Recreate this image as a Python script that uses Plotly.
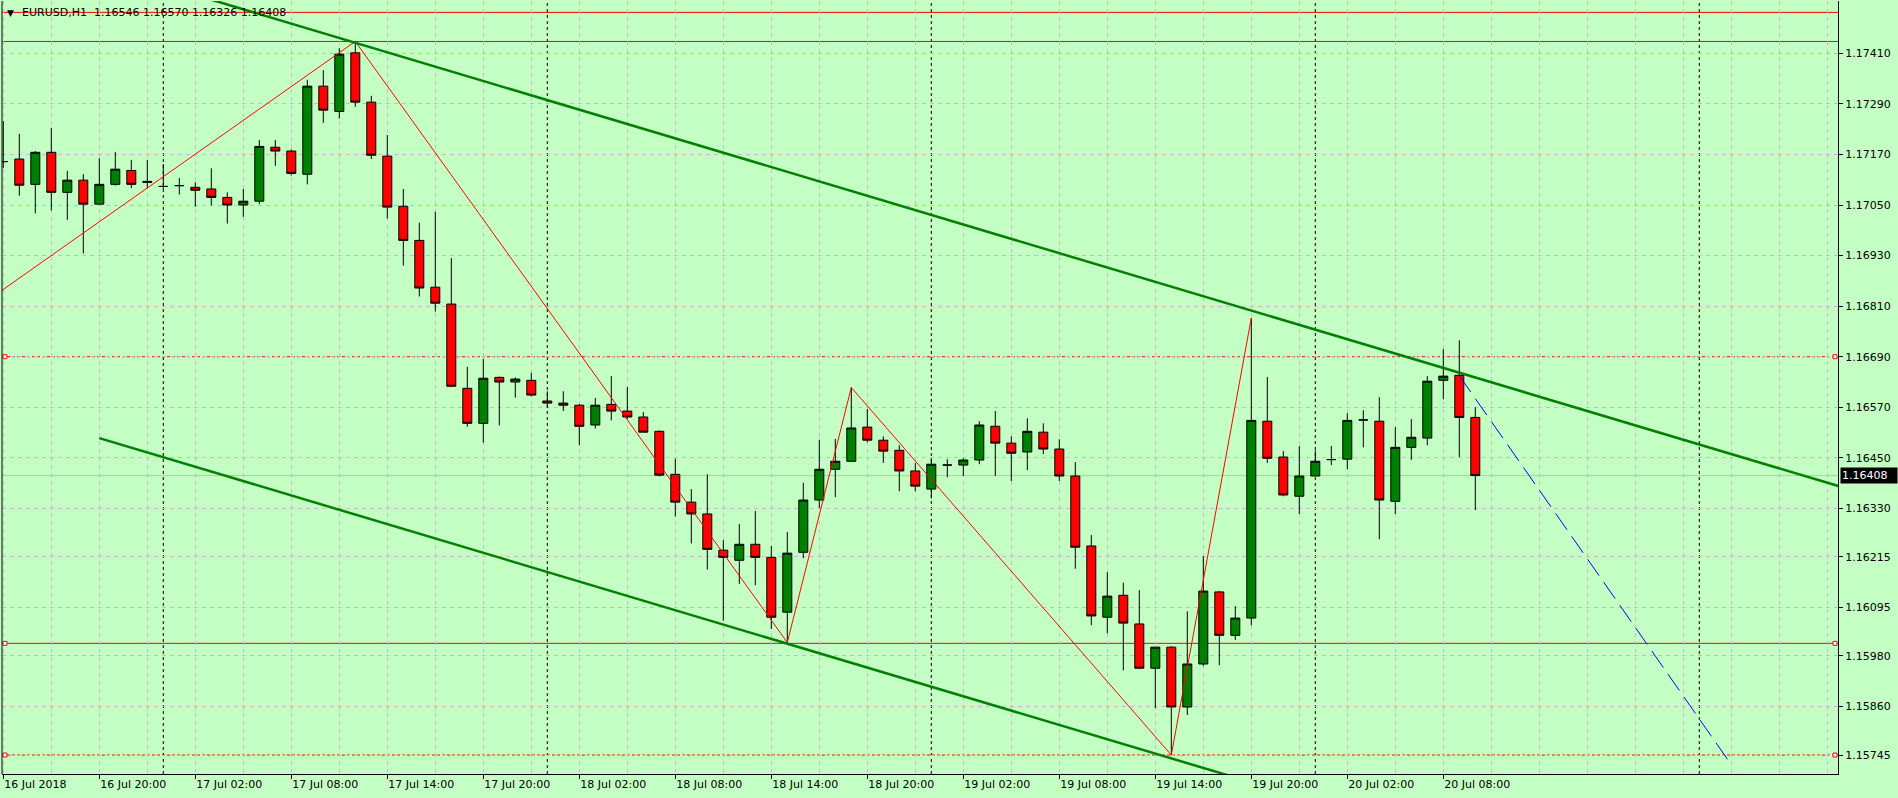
import plotly.graph_objects as go
import pandas as pd

# ---------------- data (EURUSD, H1) ----------------
symbol = "EURUSD,H1"
times = pd.date_range("2018-07-16 14:00", periods=93, freq="h")

opens = [1.17153, 1.17159, 1.17099, 1.17175, 1.17080, 1.17109, 1.17052, 1.17099, 1.17132, 1.17106,
         1.17094, 1.17096, 1.17092, 1.17088, 1.17068, 1.17050, 1.17059, 1.17187, 1.17178, 1.17123,
         1.17332, 1.17272, 1.17411, 1.17294, 1.17166, 1.17047, 1.16966, 1.16855, 1.16815, 1.16615,
         1.16532, 1.16641, 1.16630, 1.16634, 1.16585, 1.16580, 1.16575, 1.16528, 1.16577, 1.16561,
         1.16547, 1.16513, 1.16411, 1.16345, 1.16317, 1.16231, 1.16207, 1.16245, 1.16214, 1.16084,
         1.16226, 1.16350, 1.16423, 1.16442, 1.16523, 1.16492, 1.16468, 1.16419, 1.16376, 1.16433,
         1.16433, 1.16445, 1.16525, 1.16485, 1.16464, 1.16511, 1.16471, 1.16407, 1.16241, 1.16072,
         1.16124, 1.16056, 1.15951, 1.16001, 1.15859, 1.15961, 1.16132, 1.16029, 1.16070, 1.16537,
         1.16452, 1.16359, 1.16407, 1.16446, 1.16447, 1.16540, 1.16537, 1.16347, 1.16475, 1.16497,
         1.16634, 1.16646, 1.16546]
highs = [1.17249, 1.17219, 1.17178, 1.17233, 1.17131, 1.17123, 1.17161, 1.17176, 1.17157, 1.17157,
         1.17147, 1.17114, 1.17104, 1.17137, 1.17080, 1.17088, 1.17204, 1.17204, 1.17182, 1.17347,
         1.17370, 1.17422, 1.17438, 1.17309, 1.17216, 1.17088, 1.17008, 1.17034, 1.16924, 1.16666,
         1.16685, 1.16643, 1.16641, 1.16652, 1.16608, 1.16608, 1.16578, 1.16592, 1.16644, 1.16618,
         1.16559, 1.16515, 1.16448, 1.16376, 1.16411, 1.16255, 1.16293, 1.16324, 1.16241, 1.16274,
         1.16391, 1.16493, 1.16495, 1.16617, 1.16566, 1.16501, 1.16480, 1.16438, 1.16449, 1.16447,
         1.16449, 1.16537, 1.16561, 1.16501, 1.16544, 1.16532, 1.16494, 1.16440, 1.16267, 1.16179,
         1.16154, 1.16136, 1.16001, 1.16003, 1.16086, 1.16217, 1.16134, 1.16098, 1.16782, 1.16642,
         1.16466, 1.16478, 1.16468, 1.16478, 1.16556, 1.16563, 1.16594, 1.16523, 1.16542, 1.16644,
         1.16708, 1.16729, 1.16570]
lows = [1.17138, 1.17072, 1.17030, 1.17037, 1.17015, 1.16935, 1.17052, 1.17096, 1.17090, 1.17090,
        1.17088, 1.17075, 1.17046, 1.17049, 1.17006, 1.17022, 1.17052, 1.17143, 1.17120, 1.17099,
        1.17245, 1.17255, 1.17283, 1.17159, 1.17018, 1.16906, 1.16833, 1.16797, 1.16618, 1.16524,
        1.16486, 1.16527, 1.16593, 1.16596, 1.16568, 1.16561, 1.16480, 1.16520, 1.16539, 1.16543,
        1.16511, 1.16406, 1.16311, 1.16247, 1.16185, 1.16064, 1.16151, 1.16148, 1.16044, 1.16015,
        1.16212, 1.16331, 1.16357, 1.16442, 1.16487, 1.16438, 1.16371, 1.16371, 1.16354, 1.16404,
        1.16407, 1.16435, 1.16407, 1.16395, 1.16421, 1.16459, 1.16395, 1.16187, 1.16053, 1.16034,
        1.15946, 1.15949, 1.15856, 1.15745, 1.15840, 1.15956, 1.15958, 1.16018, 1.16053, 1.16438,
        1.16359, 1.16317, 1.16407, 1.16433, 1.16423, 1.16475, 1.16257, 1.16317, 1.16445, 1.16480,
        1.16589, 1.16452, 1.16326]
closes = [1.17153, 1.17097, 1.17175, 1.17080, 1.17109, 1.17052, 1.17099, 1.17135, 1.17099, 1.17104,
          1.17094, 1.17096, 1.17085, 1.17068, 1.17050, 1.17059, 1.17189, 1.17178, 1.17125, 1.17332,
          1.17275, 1.17408, 1.17294, 1.17168, 1.17045, 1.16966, 1.16853, 1.16817, 1.16620, 1.16532,
          1.16639, 1.16630, 1.16637, 1.16599, 1.16580, 1.16575, 1.16525, 1.16575, 1.16561, 1.16547,
          1.16511, 1.16409, 1.16345, 1.16317, 1.16233, 1.16214, 1.16245, 1.16214, 1.16072, 1.16224,
          1.16350, 1.16423, 1.16442, 1.16521, 1.16492, 1.16466, 1.16419, 1.16383, 1.16435, 1.16433,
          1.16445, 1.16528, 1.16485, 1.16461, 1.16513, 1.16471, 1.16407, 1.16238, 1.16075, 1.16122,
          1.16058, 1.15951, 1.16001, 1.15859, 1.15961, 1.16134, 1.16029, 1.16070, 1.16539, 1.16449,
          1.16362, 1.16407, 1.16442, 1.16446, 1.16539, 1.16540, 1.16350, 1.16475, 1.16499, 1.16632,
          1.16644, 1.16546, 1.16408]

# price scale tick values (as shown on the right axis)
price_ticks = [1.17410, 1.17290, 1.17170, 1.17050, 1.16930, 1.16810, 1.16690, 1.16570,
               1.16450, 1.16330, 1.16215, 1.16095, 1.15980, 1.15860, 1.15745]

# drawn objects
upper_channel_x = ["2018-07-16 04:00", "2018-07-21 14:00"]
upper_channel_y = [1.17798, 1.16323]
lower_channel_x = ["2018-07-16 20:00", "2018-07-21 14:00"]
lower_channel_y = [1.16497, 1.15204]
zigzag_x = ["2018-07-16 13:00", "2018-07-17 12:00", "2018-07-18 15:00",
            "2018-07-18 19:00", "2018-07-19 15:00", "2018-07-19 20:00"]
zigzag_y = [1.16823, 1.17438, 1.16012, 1.16617, 1.15745, 1.16782]
projection_x = ["2018-07-20 09:00", "2018-07-21 02:00"]
projection_y = [1.16645, 1.15722]
hline_solid = [1.17507, 1.17438, 1.16010]
hline_dashed = [1.16690, 1.15745]
hline_marked = [1.16690, 1.16010, 1.15745]
day_separators = ["2018-07-17 00:00", "2018-07-18 00:00", "2018-07-19 00:00",
                  "2018-07-20 00:00", "2018-07-21 00:00"]

# ---------------- styling ----------------
BG = "#C4FFC4"
GRID = "#C0C0C0"
FONT = "DejaVu Sans"
W, H = 1898, 798
ML, MR, MT, MB = 2, 60, 1, 24
plot_w = W - ML - MR
px_per_hour = 16.0
first_bar_px = 1.3  # distance of the first bar centre from the plot's left edge

x_start = times[0] - pd.Timedelta(hours=first_bar_px / px_per_hour)
x_end = x_start + pd.Timedelta(hours=plot_w / px_per_hour)
y_range = [1.15700, 1.17534]

label_times = list(times[::6])
label_text = [label_times[0].strftime("%d %b %Y")] + [t.strftime("%d %b %H:%M") for t in label_times[1:]]
minor_grid = list(pd.date_range(times[0], x_end, freq="3h"))

fig = go.Figure()

fig.add_trace(go.Candlestick(
    x=times, open=opens, high=highs, low=lows, close=closes,
    increasing=dict(fillcolor="#008000", line=dict(color="black", width=1)),
    decreasing=dict(fillcolor="#FF0000", line=dict(color="black", width=1)),
    whiskerwidth=0, hoverinfo="skip", name=symbol,
))

fig.add_trace(go.Scatter(x=zigzag_x, y=zigzag_y, mode="lines",
                         line=dict(color="#FF0000", width=1), hoverinfo="skip"))
fig.add_trace(go.Scatter(x=upper_channel_x, y=upper_channel_y, mode="lines",
                         line=dict(color="#008000", width=2.5), hoverinfo="skip"))
fig.add_trace(go.Scatter(x=lower_channel_x, y=lower_channel_y, mode="lines",
                         line=dict(color="#008000", width=2.5), hoverinfo="skip"))
fig.add_trace(go.Scatter(x=projection_x, y=projection_y, mode="lines",
                         line=dict(color="#0000FF", width=1, dash="20px,8px"), hoverinfo="skip"))

shapes = []
# day separators
for d in day_separators:
    shapes.append(dict(type="line", xref="x", yref="paper", x0=d, x1=d, y0=0, y1=1,
                       line=dict(color="black", width=1, dash="3px,3px"), layer="below"))
# current bid line
shapes.append(dict(type="line", xref="paper", yref="y", x0=0, x1=1, y0=closes[-1], y1=closes[-1],
                   line=dict(color=GRID, width=1), layer="below"))
# horizontal levels
for v in hline_solid:
    shapes.append(dict(type="line", xref="paper", yref="y", x0=0, x1=1, y0=v, y1=v,
                       line=dict(color="#FF0000", width=1), layer="below"))
for v in hline_dashed:
    shapes.append(dict(type="line", xref="paper", yref="y", x0=0, x1=1, y0=v, y1=v,
                       line=dict(color="#FF0000", width=1, dash="3px,2px"), layer="below"))
for v in hline_marked:
    for anchor, (a, b) in ((0, (1, 5)), (1, (-5, -1))):
        shapes.append(dict(type="rect", xref="paper", xsizemode="pixel", xanchor=anchor,
                           x0=a, x1=b, yref="y", ysizemode="pixel", yanchor=v, y0=-2, y1=2,
                           line=dict(color="#FF0000", width=1), fillcolor="white", layer="above"))
# left frame
shapes.append(dict(type="line", xref="paper", yref="paper", x0=0, x1=0, y0=0, y1=1,
                   line=dict(color="black", width=1), layer="above"))

annotations = [
    dict(xref="paper", yref="paper", x=0, y=1, xanchor="left", yanchor="middle",
         xshift=3, yshift=-11.5, text="\u25BC", showarrow=False,
         font=dict(family=FONT, size=9, color="black")),
    dict(xref="paper", yref="paper", x=0, y=1, xanchor="left", yanchor="middle",
         xshift=18, yshift=-11.7, showarrow=False,
         text=f"{symbol}\u00a0\u00a0{opens[-1]:.5f} {highs[-1]:.5f} {lows[-1]:.5f} {closes[-1]:.5f}",
         font=dict(family=FONT, size=11, color="black")),
    dict(xref="paper", yref="y", x=1, y=closes[-1], xanchor="left", yanchor="middle",
         xshift=2, showarrow=False, text=f"{closes[-1]:.5f}", bgcolor="black",
         width=54, align="left", borderpad=1,
         font=dict(family=FONT, size=11, color="white")),
]

fig.update_layout(
    width=W, height=H,
    margin=dict(l=ML, r=MR, t=MT, b=MB, pad=0),
    paper_bgcolor=BG, plot_bgcolor=BG,
    font=dict(family=FONT, size=11, color="black"),
    showlegend=False, hovermode=False,
    boxgap=0.25, boxgroupgap=0.25,
    shapes=shapes, annotations=annotations,
    xaxis=dict(
        type="date", range=[x_start, x_end], rangeslider=dict(visible=False),
        tickmode="array", tickvals=label_times, ticktext=label_text,
        ticks="outside", ticklen=4, tickcolor="black", ticklabelposition="outside right",
        showline=True, linecolor="black", linewidth=1,
        showgrid=True, gridcolor=GRID, griddash="4px,4px", gridwidth=1,
        minor=dict(tickmode="array", tickvals=minor_grid, showgrid=True, gridcolor=GRID,
                   griddash="4px,4px", gridwidth=1, ticks=""),
        zeroline=False, automargin=False, fixedrange=True,
        tickfont=dict(family=FONT, size=11, color="black"),
    ),
    yaxis=dict(
        side="right", range=y_range,
        tickmode="array", tickvals=price_ticks, ticktext=[f"{v:.5f}" for v in price_ticks],
        ticks="outside", ticklen=4, tickcolor="black",
        showline=True, linecolor="black", linewidth=1,
        showgrid=True, gridcolor=GRID, griddash="4px,4px", gridwidth=1,
        zeroline=False, automargin=False, fixedrange=True,
        tickfont=dict(family=FONT, size=11, color="black"),
    ),
)

fig.write_html("out.html", config={"displayModeBar": False},
               post_script="document.body.style.margin='0';document.body.style.overflow='hidden';")
